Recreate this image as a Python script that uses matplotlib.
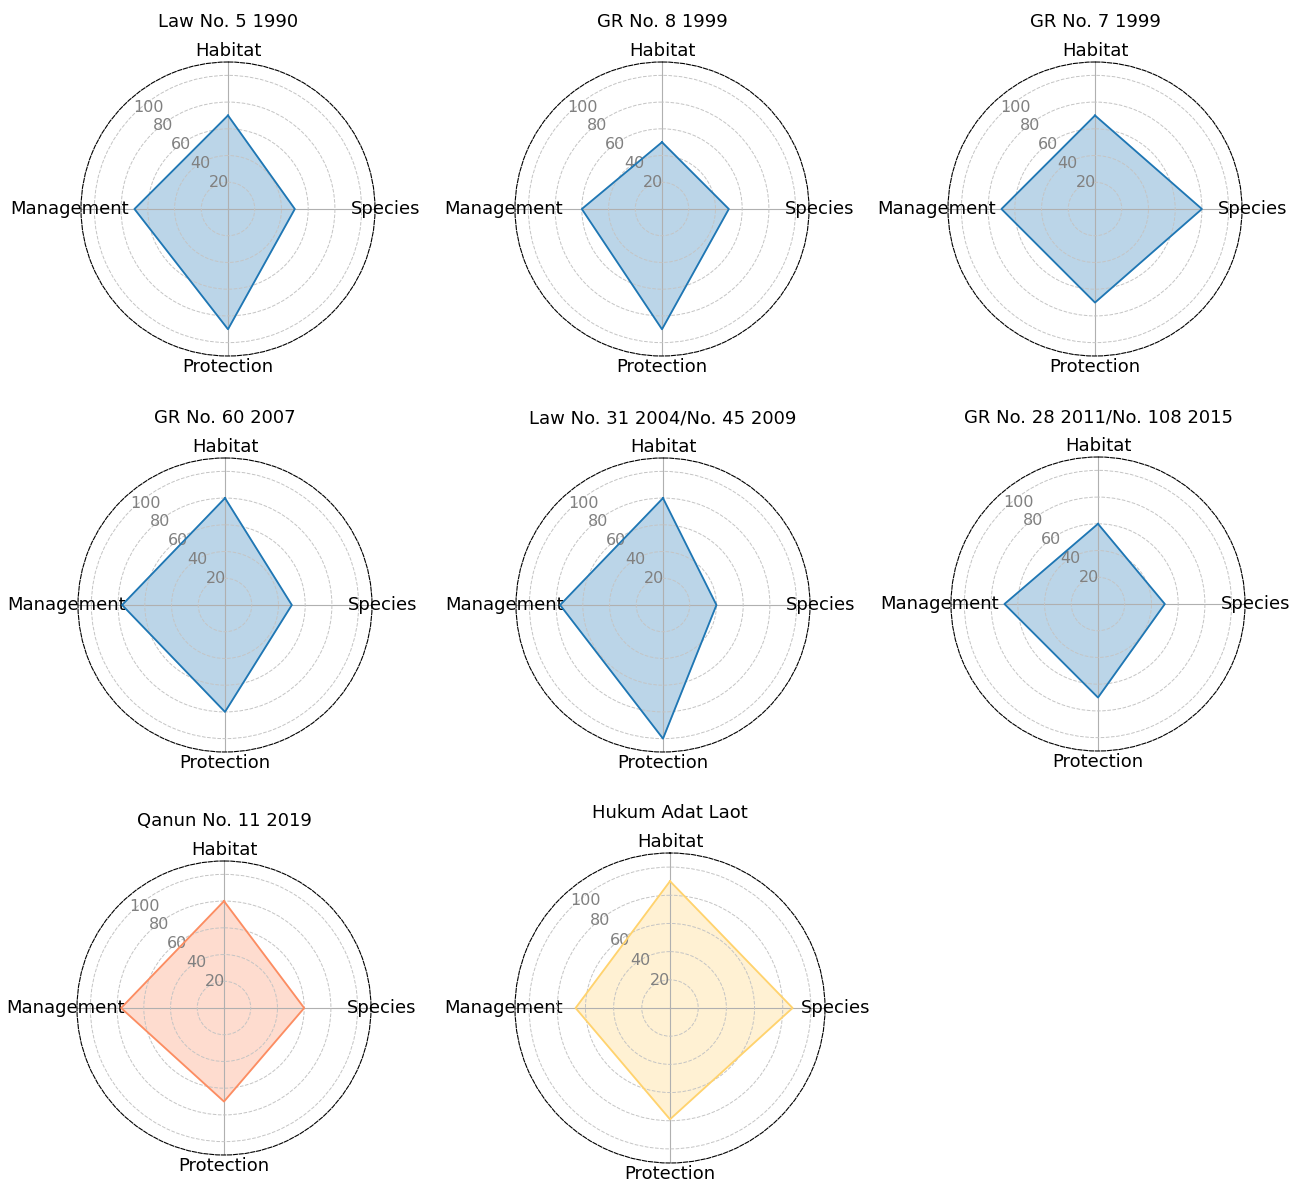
import numpy as np
import matplotlib.pyplot as plt

categories = ['Habitat', 'Management', 'Protection', 'Species']

titles = ['Law No. 5 1990', 'GR No. 8 1999', 'GR No. 7 1999',
          'GR No. 60 2007', 'Law No. 31 2004/No. 45 2009', 'GR No. 28 2011/No. 108 2015',
          'Qanun No. 11 2019', 'Hukum Adat Laot']

# scores per regulation, in the order of `categories`
law5_1990 = [70, 70, 90, 50]
gr8_1999 = [50, 60, 90, 50]
gr7_1999 = [70, 70, 70, 80]
gr60_2007 = [80, 77, 80, 50]
law31_45 = [80, 77, 100, 40]
gr28_108 = [60, 70, 70, 50]
qanun11_2019 = [80, 77, 70, 60]
hukum_adat = [90, 67, 79, 87]

scores = [law5_1990, gr8_1999, gr7_1999, gr60_2007, law31_45, gr28_108,
          qanun11_2019, hukum_adat]
colors = ['#1f77b4'] * 6 + ['#fc8d62', '#ffd36e']

W, H = 1300, 1182
# centre (px) and radius (px) of each polar panel
panels = [(228, 209, 147), (662, 209, 147), (1095, 209, 147),
          (225, 605, 147), (663, 605, 147), (1098, 604, 147),
          (224, 1008, 147), (670, 1008, 155)]

angles = np.linspace(0, 2 * np.pi, len(categories), endpoint=False)

fig = plt.figure(figsize=(W / 100, H / 100), dpi=100)

for title, vals, col, (cx, cy, r) in zip(titles, scores, colors, panels):
    ax = fig.add_axes([(cx - r) / W, 1 - (cy + r) / H, 2 * r / W, 2 * r / H],
                      projection='polar')
    ax.set_theta_offset(np.pi / 2)
    v = np.append(vals, vals[0])
    a = np.append(angles, angles[0])
    ax.plot(a, v, color=col, linewidth=1.3)
    ax.fill(a, v, color=col, alpha=0.3)
    ax.set_xticks(angles)
    ax.set_xticklabels(categories, fontsize=13)
    ax.tick_params(axis='x', pad=-2.5)
    ax.set_ylim(0, 110)
    ax.set_yticks([20, 40, 60, 80, 100])
    ax.set_yticklabels(['20', '40', '60', '80', '100'], fontsize=11.5, color='gray')
    ax.set_rlabel_position(45)
    ax.yaxis.grid(True, linestyle='--', color='#c4c4c4', linewidth=0.7)
    ax.xaxis.grid(True, color='#b0b0b0', linewidth=0.8)
    ax.spines['polar'].set_linestyle('--')
    ax.spines['polar'].set_linewidth(0.8)
    ax.set_title(title, fontsize=13, pad=10.5)

fig.savefig('out.png', dpi=100)
